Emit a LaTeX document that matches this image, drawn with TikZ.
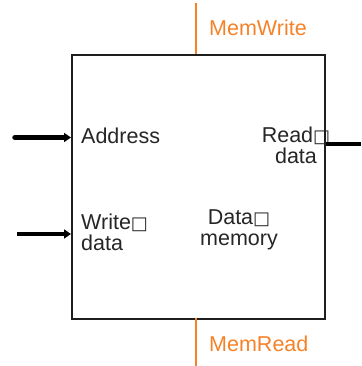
\documentclass[tikz,border=0pt]{standalone}
\usepackage{fontspec}
\setmainfont{Liberation Sans}
\newfontfamily\symfont{DejaVu Sans}
\usetikzlibrary{arrows.meta}
\definecolor{ctrlorange}{RGB}{245,130,40}
\definecolor{boxgray}{RGB}{30,30,30}
\tikzset{
  lbl/.style={inner sep=0pt, font=\fontsize{21.5}{20.5}\selectfont, text=black!85},
  ctrl/.style={draw=ctrlorange, line width=1.6pt},
  ctrllbl/.style={inner sep=0pt, font=\fontsize{21.5}{20}\selectfont, text=ctrlorange, anchor=base west},
  bus/.style={draw=black, -{Triangle[length=7pt,width=9pt]}},
}
\newcommand{\gapbox}{{\symfont\fontsize{18}{18}\selectfont □}}
\begin{document}
\begin{tikzpicture}[x=1pt,y=-1pt]
  \useasboundingbox (0,0) rectangle (361,366);
  % memory block
  \node[draw=boxgray, line width=1.8pt, minimum width=253pt, minimum height=264pt, inner sep=0pt, anchor=north west] (mem) at (71,54) {};
  % control signals
  \coordinate (mwtop) at (196,3);
  \coordinate (mwbot) at (196,54);
  \coordinate (mrtop) at (196,318);
  \coordinate (mrbot) at (196,366);
  \draw[ctrl] (mwtop) -- (mwbot);
  \draw[ctrl] (mrtop) -- (mrbot);
  \node[ctrllbl] (memwrite) at (209,36) {MemWrite};
  \node[ctrllbl] (memread) at (209,351) {MemRead};
  % ports (base anchor = baseline of the last line)
  \node[lbl, anchor=base west] (addr) at (81,143) {Address};
  \node[lbl, anchor=base west, align=left] (wdata) at (81,250) {Write\gapbox\\data};
  \node[lbl, anchor=base, align=center] (rdata) at (296,163) {Read\gapbox\\data};
  \node[lbl, anchor=base, align=center] (mname) at (239,245) {Data\gapbox\\memory};
  % buses
  \coordinate (addrin) at (15,137.5);
  \coordinate (wdin) at (17,234);
  \coordinate (rdout) at (361,144);
  \draw[bus, line width=5.5pt, line cap=round] (addrin) -- (mem.west |- addrin);
  \draw[bus, line width=3.5pt] (wdin) -- (mem.west |- wdin);
  \draw[line width=3.2pt] (mem.east |- rdout) -- (rdout);
\end{tikzpicture}
\end{document}
